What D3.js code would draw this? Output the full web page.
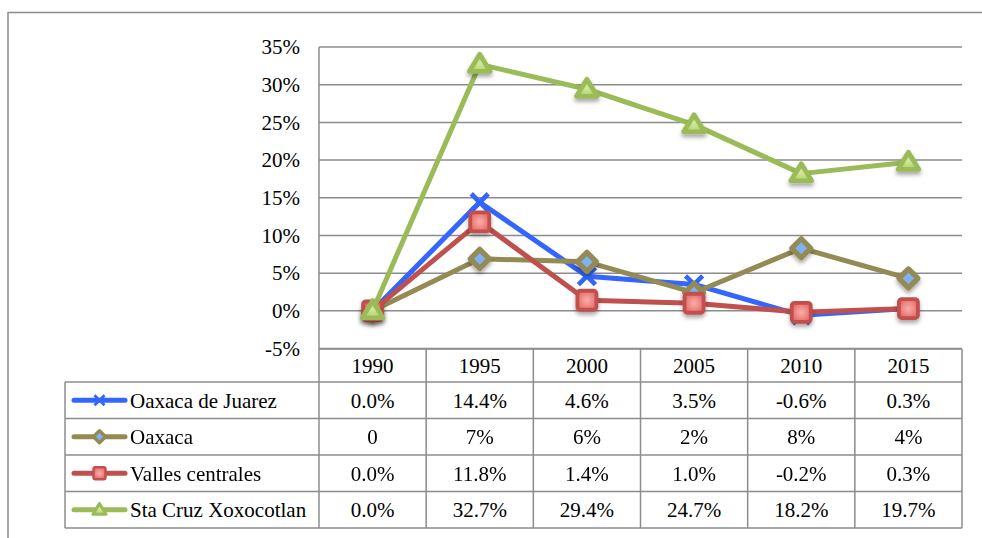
<!DOCTYPE html>
<html><head><meta charset="utf-8">
<script src="https://cdn.jsdelivr.net/npm/d3@7/dist/d3.min.js"></script>
<style>
body{margin:0;background:#fff;}
svg text{font-family:"Liberation Serif","DejaVu Serif","Times New Roman",serif;}
</style></head>
<body><svg id="c" width="982" height="538"></svg>
<script>
const years = ["1990","1995","2000","2005","2010","2015"];
const seriesNames = ["Oaxaca de Juarez","Oaxaca","Valles centrales","Sta Cruz Xoxocotlan"];
const juarez = [0.000, 0.144, 0.046, 0.035, -0.006, 0.003];
const oaxaca = [0.000, 0.069, 0.065, 0.024, 0.083, 0.043];
const valles = [0.000, 0.118, 0.014, 0.010, -0.002, 0.003];
const xoxo   = [0.000, 0.327, 0.294, 0.247, 0.182, 0.197];
const juarezLabels = ["0.0%","14.4%","4.6%","3.5%","-0.6%","0.3%"];
const oaxacaLabels = ["0","7%","6%","2%","8%","4%"];
const vallesLabels = ["0.0%","11.8%","1.4%","1.0%","-0.2%","0.3%"];
const xoxoLabels   = ["0.0%","32.7%","29.4%","24.7%","18.2%","19.7%"];
const yTicks = [-0.05,0,0.05,0.10,0.15,0.20,0.25,0.30,0.35];
const yTickLabels = ["-5%","0%","5%","10%","15%","20%","25%","30%","35%"];

const series = [
  {name:seriesNames[0], values:juarez, labels:juarezLabels, color:"#3366ff", marker:"x"},
  {name:seriesNames[1], values:oaxaca, labels:oaxacaLabels, color:"#948a54", marker:"diamond"},
  {name:seriesNames[2], values:valles, labels:vallesLabels, color:"#c0504d", marker:"square"},
  {name:seriesNames[3], values:xoxo,   labels:xoxoLabels,   color:"#9bbb59", marker:"triangle"}
];

const FONT = "Liberation Serif, DejaVu Serif, serif";
const FS = 21;
const svg = d3.select("#c");
const L = 319, R = 962, T = 47, B = 348.5;
const x = d3.scaleBand().domain(years).range([L, R]);
const y = d3.scaleLinear().domain([-0.05, 0.35]).range([B, T]);

const defs = svg.append("defs");
const f = defs.append("filter").attr("id","sh").attr("x","-50%").attr("y","-50%").attr("width","200%").attr("height","200%");
f.append("feDropShadow").attr("dx",0).attr("dy",3).attr("stdDeviation",2).attr("flood-color","#000").attr("flood-opacity",0.35);
const gRed = defs.append("radialGradient").attr("id","gRed");
gRed.append("stop").attr("offset","0%").attr("stop-color","#f8b0ac");
gRed.append("stop").attr("offset","100%").attr("stop-color","#e8706c");
const gGreen = defs.append("radialGradient").attr("id","gGreen");
gGreen.append("stop").attr("offset","0%").attr("stop-color","#d4ea9a");
gGreen.append("stop").attr("offset","100%").attr("stop-color","#b2d270");

// outer frame
svg.append("rect").attr("x",8).attr("y",12.5).attr("width",1000).attr("height",600)
  .attr("fill","none").attr("stroke","#8c8c8c").attr("stroke-width",1.5);

// gridlines
svg.append("g").selectAll("line").data(yTicks).join("line")
  .attr("x1",L).attr("x2",R).attr("y1",d=>y(d)).attr("y2",d=>y(d))
  .attr("stroke","#8c8c8c").attr("stroke-width",1.5);
// y axis line
svg.append("line").attr("x1",L).attr("x2",L).attr("y1",T).attr("y2",528)
  .attr("stroke","#8c8c8c").attr("stroke-width",1.5);

// y tick labels
svg.append("g").selectAll("text").data(yTicks).join("text")
  .attr("x",300).attr("y",d=>y(d)).attr("dy","0.35em").attr("text-anchor","end")
  .attr("font-family",FONT).attr("font-size",FS).attr("fill","#000")
  .text((d,i)=>yTickLabels[i]);

// table
const rowH = [349, 382, 418.5, 455, 491.5, 528];
const tL = 65;
const tg = svg.append("g").attr("stroke","#8c8c8c").attr("stroke-width",1.5);
tg.append("line").attr("x1",L).attr("x2",R).attr("y1",rowH[0]).attr("y2",rowH[0]);
rowH.slice(1).forEach(yy=>tg.append("line").attr("x1",tL).attr("x2",R).attr("y1",yy).attr("y2",yy));
tg.append("line").attr("x1",tL).attr("x2",tL).attr("y1",rowH[1]).attr("y2",rowH[5]);
years.forEach(yr=>{
  const xx = x(yr)+x.bandwidth();
  tg.append("line").attr("x1",xx).attr("x2",xx).attr("y1",rowH[0]).attr("y2",rowH[5]);
});
svg.append("g").selectAll("text").data(years).join("text")
  .attr("x",d=>x(d)+x.bandwidth()/2).attr("y",(rowH[0]+rowH[1])/2).attr("dy","0.35em")
  .attr("font-family",FONT).attr("text-anchor","middle").attr("font-size",FS).text(d=>d);

function drawMarker(g, type, color, cx, cy, s){
  const m = g.append("g").attr("transform",`translate(${cx},${cy})`);
  if(type==="x"){
    m.append("path").attr("d",`M${-s},${-s}L${s},${s}M${-s},${s}L${s},${-s}`)
      .attr("stroke",color).attr("stroke-width",s*0.55).attr("fill","none");
  } else if(type==="diamond"){
    m.append("path").attr("d",`M0,${-s}L${s},0L0,${s}L${-s},0Z`)
      .attr("fill","#7fb2f0").attr("stroke",color).attr("stroke-width",s*0.55).attr("stroke-linejoin","round");
  } else if(type==="square"){
    m.append("rect").attr("x",-s).attr("y",-s).attr("width",2*s).attr("height",2*s)
      .attr("rx",s*0.3).attr("fill","url(#gRed)").attr("stroke",color).attr("stroke-width",s*0.4);
  } else if(type==="triangle"){
    m.append("path").attr("d",`M0,${-s*1.05}L${s*1.1},${s*0.75}L${-s*1.1},${s*0.75}Z`)
      .attr("fill","url(#gGreen)").attr("stroke",color).attr("stroke-width",s*0.5).attr("stroke-linejoin","round");
  }
  return m;
}

const line = d3.line().x((d,i)=>x(years[i])+x.bandwidth()/2).y(d=>y(d));
series.forEach((s,si)=>{
  const g = svg.append("g");
  g.append("path").datum(s.values).attr("d",line).attr("fill","none")
    .attr("stroke",s.color).attr("stroke-width",5).attr("stroke-linejoin","round");
  const mg = g.append("g").attr("filter", s.marker==="x" ? null : "url(#sh)");
  s.values.forEach((v,i)=>{
    drawMarker(mg, s.marker, s.color, x(years[i])+x.bandwidth()/2, y(v), s.marker==="x"?8.5:9.5);
  });
  const cy = (rowH[si+1]+rowH[si+2])/2;
  const lg = svg.append("g");
  lg.append("line").attr("x1",74).attr("x2",125).attr("y1",cy).attr("y2",cy)
    .attr("stroke",s.color).attr("stroke-width",5).attr("stroke-linecap","round");
  drawMarker(lg, s.marker, s.color, 99.5, cy, s.marker==="x"?5:6);
  svg.append("text").attr("x",130).attr("y",cy).attr("dy","0.35em")
    .attr("font-family",FONT).attr("font-size",FS).text(s.name);
  svg.append("g").selectAll("text").data(s.labels).join("text")
    .attr("x",(d,i)=>x(years[i])+x.bandwidth()/2).attr("y",cy).attr("dy","0.35em")
    .attr("font-family",FONT).attr("text-anchor","middle").attr("font-size",FS).text(d=>d);
});
</script></body></html>
